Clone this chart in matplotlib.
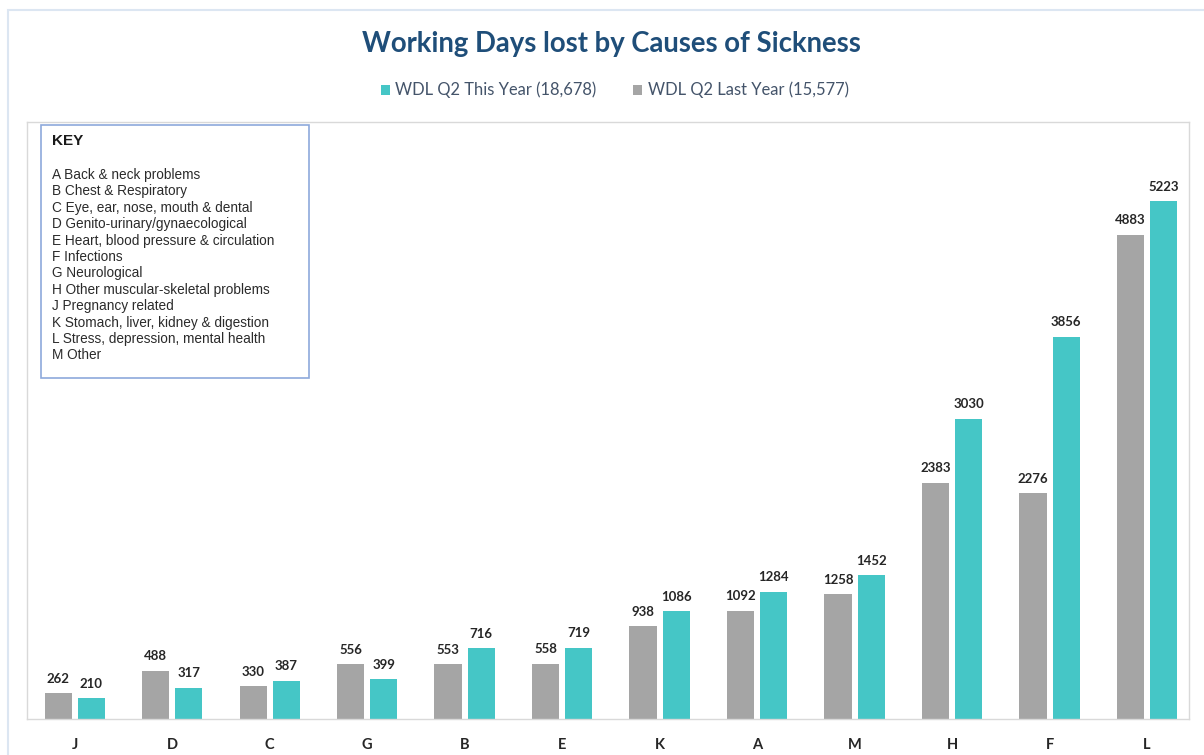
import matplotlib.pyplot as plt
from matplotlib.patches import Rectangle
import numpy as np

categories = ["J", "D", "C", "G", "B", "E", "K", "A", "M", "H", "F", "L"]
last_year = [262, 488, 330, 556, 553, 558, 938, 1092, 1258, 2383, 2276, 4883]
this_year = [210, 317, 387, 399, 716, 719, 1086, 1284, 1452, 3030, 3856, 5223]
key_lines = [
    "A Back & neck problems",
    "B Chest & Respiratory",
    "C Eye, ear, nose, mouth & dental",
    "D Genito-urinary/gynaecological",
    "E Heart, blood pressure & circulation",
    "F Infections",
    "G Neurological",
    "H Other muscular-skeletal problems",
    "J Pregnancy related",
    "K Stomach, liver, kidney & digestion",
    "L Stress, depression, mental health",
    "M Other",
]

teal = "#45C6C6"
grey = "#A5A5A5"
navy = "#1F4E79"

fig = plt.figure(figsize=(12.04, 7.55), dpi=100)
fig.patches.append(Rectangle((8/1204, -0.1), 1.2, 1 - 10/755 + 0.1, transform=fig.transFigure,
                             fill=False, edgecolor="#DCE6F2", linewidth=1.5))
ax = fig.add_axes([27/1204, 1 - 719/755, (1189-27)/1204, (719-122)/755])

x = np.arange(len(categories))
w = 0.28
b1 = ax.bar(x - 0.17, last_year, w, color=grey)
b2 = ax.bar(x + 0.17, this_year, w, color=teal)
for bars in (b1, b2):
    for r in bars:
        ax.annotate(str(int(r.get_height())), (r.get_x() + r.get_width()/2, r.get_height()),
                    xytext=(0, 6), textcoords="offset points", ha="center", va="bottom",
                    fontsize=9.5, fontweight="bold", color="#262626", family="Lato")

ax.set_xlim(-0.49, 11.43)
ax.set_ylim(0, 6020)
ax.set_yticks([])
ax.set_xticks(x)
ax.set_xticklabels(categories, fontsize=10.5, fontweight="bold", family="Lato", color="#262626")
ax.tick_params(axis="x", length=0, pad=14)
for s in ax.spines.values():
    s.set_color("#D9D9D9")
    s.set_linewidth(1)

fig.text(0.508, 1 - 44/755, "Working Days lost by Causes of Sickness", ha="center", va="center",
         fontsize=19.8, fontweight="bold", color=navy, family="Lato")

# legend
fig.patches.append(Rectangle((381/1204, 1 - 95/755), 9/1204, 10/755, transform=fig.transFigure,
                             facecolor=teal, edgecolor="none"))
fig.text(395/1204, 1 - 90/755, "WDL Q2 This Year (18,678)", va="center", fontsize=11.9,
         color="#44546A", family="Lato")
fig.patches.append(Rectangle((633/1204, 1 - 95/755), 9/1204, 10/755, transform=fig.transFigure,
                             facecolor=grey, edgecolor="none"))
fig.text(648/1204, 1 - 90/755, "WDL Q2 Last Year (15,577)", va="center", fontsize=11.9,
         color="#44546A", family="Lato")

# key box
fig.patches.append(Rectangle((41/1204, 1 - 378/755), (309-41)/1204, (378-125)/755,
                             transform=fig.transFigure, facecolor="white",
                             edgecolor="#8EA9DB", linewidth=1.2, zorder=5))
fig.text(52/1204, 1 - 141/755, "KEY", va="center", fontsize=11, fontweight="bold",
         color="#1a1a1a", family="Liberation Sans", zorder=6)
for i, line in enumerate(key_lines):
    fig.text(52/1204, 1 - (175 + i*16.4)/755, line, va="center", fontsize=9.8,
             color="#2b2b2b", family="Liberation Sans", zorder=6)

fig.savefig("out.png", dpi=100)
